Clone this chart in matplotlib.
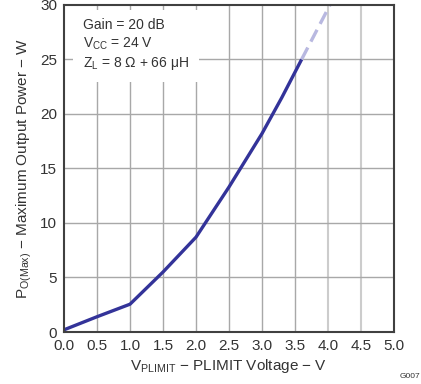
import matplotlib
matplotlib.use("Agg")
import matplotlib.pyplot as plt

plt.rcParams['font.family'] = ['Liberation Sans', 'DejaVu Sans']
plt.rcParams['mathtext.fontset'] = 'custom'
plt.rcParams['mathtext.rm'] = 'Liberation Sans'
plt.rcParams['mathtext.it'] = 'Liberation Sans'

# Data
v_solid = [0.0, 0.5, 1.0, 1.5, 2.0, 2.5, 3.0, 3.3, 3.6]
p_solid = [0.2, 1.4, 2.55, 5.5, 8.7, 13.3, 18.2, 21.5, 25.0]
v_dash = [3.6, 4.03]
p_dash = [25.0, 30.0]
xticks = [0.0, 0.5, 1.0, 1.5, 2.0, 2.5, 3.0, 3.5, 4.0, 4.5, 5.0]
yticks = [0, 5, 10, 15, 20, 25, 30]

fig = plt.figure(figsize=(4.21, 3.84), dpi=100)
ax = fig.add_axes([0.152, 0.1354, 0.784, 0.852])
ax.set_xlim(0, 5)
ax.set_ylim(0, 30)
ax.set_xticks(xticks)
ax.set_xticklabels([f"{t:.1f}" for t in xticks])
ax.set_yticks(yticks)
for t in xticks[1:-1]:
    c = '#cccccc' if t >= 4.0 else '#a8a8a8'
    ax.axvline(t, color=c, lw=1.0 if t < 4.0 else 1.5, zorder=1)
for t in yticks[1:-1]:
    ax.axhline(t, color='#a8a8a8', lw=1.0, zorder=1)
ax.tick_params(length=0, labelsize=11, colors='#333333', pad=5)
for s in ax.spines.values():
    s.set_color('#404040')
    s.set_linewidth(1.5)
    s.set_zorder(5)

ax.plot(v_solid, p_solid, color='#333399', lw=2.4, zorder=3, solid_capstyle='butt')
ax.plot(v_dash, p_dash, color='#b8b8e0', lw=2.4, ls=(0, (4, 2)), zorder=3)

ax.text(0.29, 26.3,
        "Gain = 20 dB\n$\\mathregular{V_{CC}}$ = 24 V\n$\\mathregular{Z_{L}}$ = 8 Ω + 66 μH",
        fontsize=10, color='#333333', va='center', ha='left', linespacing=1.3,
        bbox=dict(facecolor='white', edgecolor='none', pad=7), zorder=4)

ax.set_xlabel("$\\mathregular{V_{PLIMIT}}$ − PLIMIT Voltage − V", fontsize=11, color='#333333', labelpad=3)
ax.set_ylabel("$\\mathregular{P_{O(Max)}}$ − Maximum Output Power − W", fontsize=11, color='#333333', labelpad=4)
fig.text(0.998, 0.01, "G007", fontsize=6, color='#333333', ha='right', va='bottom')

fig.savefig("out.png", dpi=100)
